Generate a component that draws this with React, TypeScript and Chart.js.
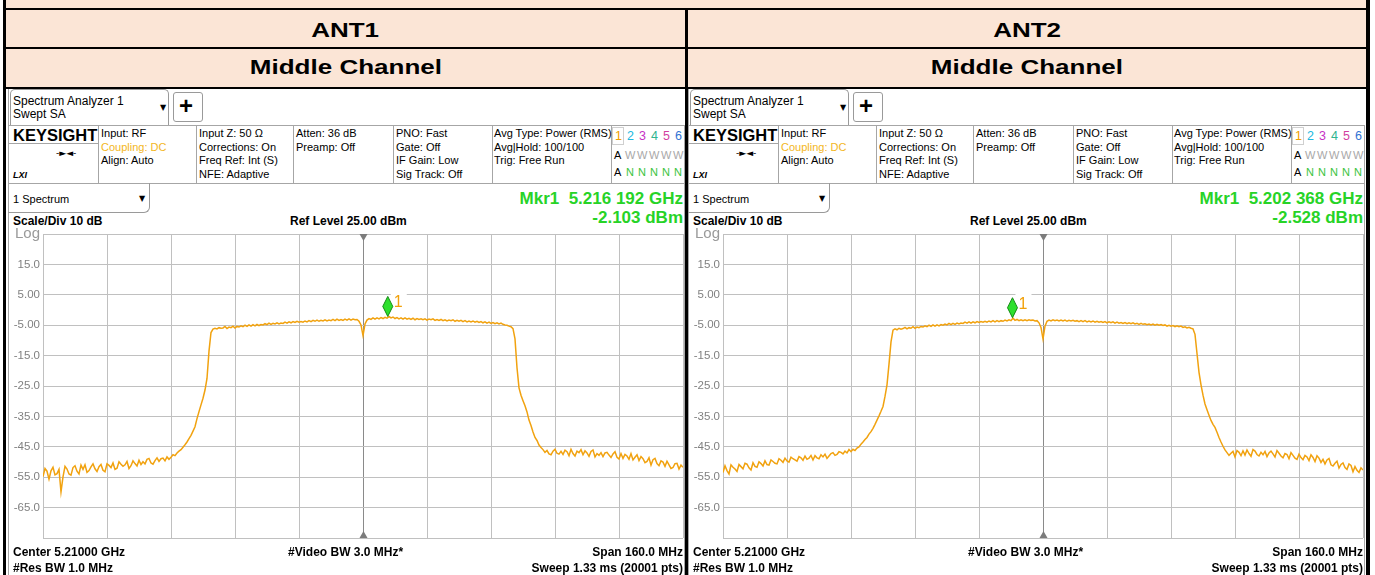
import React, { useEffect, useRef } from 'react';
import { Chart, registerables } from 'chart.js';

Chart.register(...registerables);

// ---------------- data ----------------
const FREQ_START_MHZ = -80; // offset from centre 5.21 GHz
const FREQ_STEP_MHZ = 0.5;
const X_MIN = -80;
const X_MAX = 80;
const X_STEP = 16;
const Y_MIN = -75;
const Y_MAX = 25;
const Y_STEP = 10;
const Y_TICK_VALUES = [25, 15, 5, -5, -15, -25, -35, -45, -55, -65, -75];
const Y_TICK_LABELS = ['Log', '15.0', '5.00', '-5.00', '-15.0', '-25.0', '-35.0', '-45.0', '-55.0', '-65.0', ''];

const ANT1_TRACE = [
  -54.8, -52.1, -53.0, -55.6, -52.9, -51.7, -54.2, -53.8, -52.4, -59.8,
  -54.9, -51.4, -52.3, -53.9, -54.3, -51.8, -51.2, -53.0, -53.9, -51.0,
  -52.4, -50.9, -53.4, -52.8, -51.6, -50.6, -52.2, -53.1, -51.5, -50.8,
  -52.7, -53.2, -50.6, -51.1, -51.8, -50.3, -52.4, -52.0, -49.9, -50.7,
  -51.4, -50.9, -49.8, -52.1, -51.2, -49.6, -50.5, -51.3, -49.4, -50.8,
  -49.9, -50.6, -49.1, -48.8, -50.3, -50.7, -49.5, -48.6, -49.8, -48.9,
  -48.7, -49.6, -48.3, -49.1, -48.4, -47.6, -47.9, -47.0, -46.4, -45.9,
  -45.1, -44.3, -43.4, -42.3, -41.2, -39.8, -38.4, -35.7, -33.4, -31.2,
  -29.0, -26.3, -22.5, -13.5, -7.4, -6.3, -6.0, -6.2, -5.8, -6.0,
  -5.9, -5.4, -6.1, -5.6, -5.8, -5.3, -5.9, -5.4, -5.6, -5.2,
  -5.5, -5.0, -5.4, -4.9, -5.3, -4.8, -5.2, -4.7, -5.1, -4.8,
  -4.9, -4.5, -4.8, -4.3, -4.7, -4.4, -4.6, -4.2, -4.6, -4.3,
  -4.4, -4.0, -4.3, -3.9, -4.2, -3.8, -4.1, -3.7, -4.0, -3.8,
  -4.0, -3.6, -3.9, -3.5, -3.8, -3.4, -3.7, -3.3, -3.7, -3.4,
  -3.6, -3.2, -3.6, -3.3, -3.5, -3.1, -3.5, -3.0, -3.4, -3.1,
  -3.4, -3.0, -3.3, -2.9, -3.3, -3.0, -3.2, -3.1, -3.7, -4.9,
  -8.4, -4.6, -3.3, -2.8, -3.1, -2.6, -3.0, -2.6, -2.9, -2.5,
  -2.8, -2.4, -2.7, -2.15, -2.6, -2.3, -2.8, -2.5, -2.9, -2.6,
  -3.0, -2.6, -3.0, -2.7, -3.1, -2.7, -3.2, -2.8, -3.1, -2.9,
  -3.2, -2.9, -3.3, -3.0, -3.2, -2.9, -3.4, -3.1, -3.4, -3.1,
  -3.5, -3.2, -3.6, -3.3, -3.5, -3.2, -3.7, -3.4, -3.7, -3.4,
  -3.8, -3.5, -3.9, -3.6, -3.9, -3.6, -4.0, -3.7, -4.1, -3.8,
  -4.2, -3.9, -4.3, -4.0, -4.4, -4.1, -4.5, -4.2, -4.6, -4.3,
  -4.7, -4.9, -5.0, -5.3, -5.5, -6.1, -9.5, -19.0, -25.6, -28.0,
  -29.8, -31.5, -33.5, -36.2, -38.0, -40.1, -41.9, -42.9, -44.4, -45.2,
  -45.9, -46.8, -46.2, -47.3, -47.6, -46.4, -45.8, -47.1, -47.4, -46.5,
  -47.5, -46.1, -46.6, -47.9, -45.8, -47.2, -48.0, -46.4, -46.9, -45.9,
  -47.6, -46.3, -47.0, -48.1, -46.5, -46.0, -48.3, -47.2, -47.8, -46.9,
  -48.2, -47.0, -46.8, -47.7, -48.5, -47.3, -46.6, -48.4, -49.0, -47.2,
  -48.8, -47.5, -48.0, -49.1, -47.2, -49.3, -48.4, -47.6, -49.5, -48.2,
  -48.9, -50.2, -49.8, -48.6, -51.0, -49.2, -48.8, -50.5, -51.2, -49.6,
  -50.0, -51.4, -49.7, -50.9, -52.1, -51.8, -50.5, -50.4, -52.3, -51.0,
  -51.7,
];

const ANT2_TRACE = [
  -53.4, -51.2, -52.8, -53.9, -50.9, -51.7, -52.3, -53.1, -50.8, -51.5,
  -52.2, -50.4, -50.7, -51.9, -52.6, -50.2, -51.4, -51.7, -49.9, -50.5,
  -51.3, -49.6, -50.8, -51.0, -49.3, -49.8, -50.4, -50.6, -48.9, -49.4,
  -50.1, -48.7, -49.6, -50.0, -48.4, -48.9, -49.3, -49.7, -48.2, -48.6,
  -49.4, -48.0, -49.1, -48.7, -47.8, -49.3, -47.9, -48.6, -48.9, -47.6,
  -48.3, -47.4, -48.8, -48.0, -47.2, -46.9, -47.8, -47.5, -46.6, -46.8,
  -47.3, -46.4, -47.0, -45.9, -46.6, -45.8, -46.2, -45.4, -45.0, -44.1,
  -43.4, -42.6, -41.9, -40.8, -40.0, -38.9, -37.6, -36.2, -34.8, -33.3,
  -31.7, -28.4, -24.6, -17.8, -10.5, -6.6, -6.2, -6.5, -6.0, -6.3,
  -6.1, -5.7, -6.2, -5.8, -6.0, -5.5, -6.0, -5.6, -5.8, -5.4,
  -5.6, -5.2, -5.5, -5.0, -5.4, -4.9, -5.3, -4.9, -5.2, -4.8,
  -5.0, -4.6, -4.9, -4.4, -4.8, -4.4, -4.7, -4.3, -4.6, -4.3,
  -4.4, -4.0, -4.3, -3.9, -4.3, -3.9, -4.2, -3.8, -4.1, -3.8,
  -4.0, -3.7, -4.0, -3.6, -3.9, -3.5, -3.9, -3.5, -3.8, -3.5,
  -3.7, -3.3, -3.6, -3.2, -3.5, -2.7, -3.4, -3.1, -3.5, -3.2,
  -3.5, -3.2, -3.5, -3.2, -3.4, -3.3, -3.6, -3.5, -4.2, -5.7,
  -9.5, -5.3, -3.7, -3.3, -3.6, -3.2, -3.5, -3.3, -3.6, -3.3,
  -3.6, -3.3, -3.7, -3.4, -3.6, -3.4, -3.7, -3.5, -3.8, -3.5,
  -3.8, -3.5, -3.9, -3.6, -3.9, -3.6, -4.0, -3.7, -4.0, -3.8,
  -4.1, -3.8, -4.2, -3.9, -4.2, -3.9, -4.3, -4.0, -4.3, -4.1,
  -4.4, -4.1, -4.5, -4.2, -4.5, -4.2, -4.6, -4.4, -4.7, -4.4,
  -4.7, -4.5, -4.8, -4.6, -4.9, -4.6, -5.0, -4.7, -5.0, -4.8,
  -5.1, -4.9, -5.3, -5.0, -5.3, -5.1, -5.5, -5.2, -5.5, -5.3,
  -5.7, -5.5, -5.9, -5.7, -6.0, -6.2, -8.0, -14.3, -20.5, -24.6,
  -28.0, -30.9, -32.8, -34.6, -36.3, -37.6, -38.6, -40.2, -41.9, -43.4,
  -44.8, -46.0, -46.9, -47.8, -47.1, -46.5, -48.3, -46.2, -46.8, -47.9,
  -46.3, -47.7, -46.0, -47.2, -48.1, -45.9, -46.4, -47.5, -48.0, -46.8,
  -47.6, -46.5, -48.2, -47.0, -46.4, -47.3, -48.3, -46.2, -47.1, -48.0,
  -48.6, -47.2, -47.5, -48.9, -46.9, -47.8, -48.7, -49.1, -47.4, -48.5,
  -49.2, -47.8, -48.3, -49.5, -47.6, -48.5, -49.8, -47.9, -48.7, -50.1,
  -49.1, -50.6, -49.3, -48.8, -50.9, -51.3, -50.4, -49.7, -52.0, -50.8,
  -50.3, -51.8, -52.4, -50.6, -51.1, -53.2, -51.5, -52.7, -53.4, -51.9,
  -52.6,
];

const ANT1_MARKER = { freq: 6.192, level: -2.103 };
const ANT2_MARKER = { freq: -7.632, level: -2.528 };

const COLUMN_TITLES = ['ANT1', 'ANT2'];
const ROW_TITLE = 'Middle Channel';
const MKR_FREQ_TEXT = ['Mkr1  5.216 192 GHz', 'Mkr1  5.202 368 GHz'];
const MKR_LEVEL_TEXT = ['-2.103 dBm', '-2.528 dBm'];

// ---------------- styling ----------------
const FONT = '"Liberation Sans", Arial, Helvetica, sans-serif';
const TRACE_COLOR = '#f1a20f';
const GREEN = '#27d327';
const GRID = '#c0c0c0';
const PANEL_LINE = '#a6a6a6';
const PEACH = '#fbe5d6';
const PANEL_OFFSETS = [0, 680];

type TxtProps = {
  x: number;
  y: number;
  s: number;
  text: string;
  bold?: boolean;
  italic?: boolean;
  color?: string;
  right?: boolean;
  family?: string;
};

function Txt({ x, y, s, text, bold, italic, color, right, family }: TxtProps) {
  const style: React.CSSProperties = {
    position: 'absolute',
    top: y - s / 2,
    fontSize: s,
    lineHeight: s + 'px',
    whiteSpace: 'pre',
    fontFamily: family || FONT,
    fontWeight: bold ? 700 : 400,
    fontStyle: italic ? 'italic' : 'normal',
    color: color || '#000',
  };
  if (right) style.right = 1375 - x;
  else style.left = x;
  return <div style={style}>{text}</div>;
}

function Rect(props: { l: number; t: number; w: number; h: number; style?: React.CSSProperties }) {
  const { l, t, w, h, style } = props;
  return <div style={{ position: 'absolute', left: l, top: t, width: w, height: h, boxSizing: 'border-box', ...style }} />;
}

function HLine({ x1, x2, y, c }: { x1: number; x2: number; y: number; c?: string }) {
  return <Rect l={x1} t={y} w={x2 - x1} h={1} style={{ background: c || PANEL_LINE }} />;
}
function VLine({ y1, y2, x, c }: { y1: number; y2: number; x: number; c?: string }) {
  return <Rect l={x} t={y1} w={1} h={y2 - y1} style={{ background: c || PANEL_LINE }} />;
}

type Marker = { freq: number; level: number };

function SpectrumChart({ left, trace, marker }: { left: number; trace: number[]; marker: Marker }) {
  const ref = useRef<HTMLCanvasElement>(null);
  useEffect(() => {
    const canvas = ref.current;
    if (!canvas) return;
    const points = trace.map((v, i) => ({ x: FREQ_START_MHZ + i * FREQ_STEP_MHZ, y: v }));
    const overlay = {
      id: 'saOverlay',
      afterDatasetsDraw(chart: any) {
        const { ctx, chartArea, scales } = chart;
        const x0 = Math.round(scales.x.getPixelForValue(0)) + 0.5;
        ctx.save();
        ctx.fillStyle = '#7c7c7c';
        ctx.beginPath();
        ctx.moveTo(x0 - 4, chartArea.top);
        ctx.lineTo(x0 + 4, chartArea.top);
        ctx.lineTo(x0, chartArea.top + 7);
        ctx.closePath();
        ctx.fill();
        ctx.beginPath();
        ctx.moveTo(x0 - 4, chartArea.bottom);
        ctx.lineTo(x0 + 4, chartArea.bottom);
        ctx.lineTo(x0, chartArea.bottom - 7);
        ctx.closePath();
        ctx.fill();

        const mx = scales.x.getPixelForValue(marker.freq);
        const my = scales.y.getPixelForValue(marker.level);
        ctx.fillStyle = '#ffffff';
        ctx.fillRect(mx + 3, my - 25, 16, 17);
        ctx.fillStyle = '#f2a10a';
        ctx.font = '16px ' + FONT;
        ctx.textBaseline = 'alphabetic';
        ctx.textAlign = 'left';
        ctx.fillText('1', mx + 6, my - 9);
        ctx.beginPath();
        ctx.moveTo(mx, my);
        ctx.lineTo(mx + 5, my - 10);
        ctx.lineTo(mx, my - 20);
        ctx.lineTo(mx - 5, my - 10);
        ctx.closePath();
        ctx.fillStyle = '#2ee02e';
        ctx.fill();
        ctx.strokeStyle = '#158a15';
        ctx.lineWidth = 1;
        ctx.stroke();
        ctx.restore();
      },
    };
    const chart = new Chart(canvas, {
      type: 'line',
      data: {
        datasets: [
          {
            data: points,
            borderColor: TRACE_COLOR,
            borderWidth: 1.5,
            pointRadius: 0,
            tension: 0,
            fill: false,
          },
        ],
      },
      options: {
        animation: false,
        responsive: false,
        events: [],
        layout: { padding: { top: 11, right: 3, bottom: 4, left: 0 } },
        plugins: { legend: { display: false }, tooltip: { enabled: false }, title: { display: false } },
        scales: {
          x: {
            type: 'linear',
            min: X_MIN,
            max: X_MAX,
            ticks: { stepSize: X_STEP, display: false },
            grid: {
              drawTicks: false,
              lineWidth: 1,
              color: (c: any) => (c.tick && c.tick.value === 0 ? '#8a8a8a' : GRID),
            },
            border: { display: false },
            afterFit: (s: any) => {
              s.height = 0;
            },
          },
          y: {
            type: 'linear',
            min: Y_MIN,
            max: Y_MAX,
            ticks: {
              stepSize: Y_STEP,
              padding: 3,
              callback: (v: any) => {
                const i = Y_TICK_VALUES.indexOf(Number(v));
                return i >= 0 ? Y_TICK_LABELS[i] : '';
              },
              font: (c: any) => ({ family: FONT, size: c.tick && c.tick.value === Y_MAX ? 15 : 11.5 }),
              color: (c: any) => (c.tick && c.tick.value === Y_MAX ? '#9a9a9a' : '#808080'),
            },
            grid: { drawTicks: false, lineWidth: 1, color: GRID },
            border: { display: false },
            afterFit: (s: any) => {
              s.width = 33;
            },
          },
        },
      } as any,
      plugins: [overlay],
    });
    return () => chart.destroy();
  }, [trace, marker]);
  return (
    <canvas
      ref={ref}
      width={676}
      height={326}
      style={{ position: 'absolute', left, top: 222, width: 676, height: 326 }}
    />
  );
}

function Panel({ idx }: { idx: number }) {
  const o = PANEL_OFFSETS[idx];
  const trace = idx === 0 ? ANT1_TRACE : ANT2_TRACE;
  const marker = idx === 0 ? ANT1_MARKER : ANT2_MARKER;
  const legendColors = ['#f0a000', '#22b8e0', '#c632c6', '#2fb58f', '#d23f9f', '#3373d3'];
  const legendX = [615, 627, 639, 651, 663, 675];
  return (
    <>
      {/* frame lines */}
      <VLine x={8 + o} y1={89} y2={575} />
      <VLine x={684 + o} y1={125} y2={575} />
      <Rect l={10 + o} t={89} w={159} h={37} style={{ border: '1px solid #9a9a9a', borderBottom: 'none', borderRadius: '5px 5px 0 0' }} />
      <Rect l={173 + o} t={92} w={30} h={30} style={{ border: '1px solid #9a9a9a', borderRadius: 3 }} />
      <HLine x1={8 + o} x2={685 + o} y={125} />
      <HLine x1={8 + o} x2={685 + o} y={183} />
      {[98, 196, 293, 393, 492, 611].map((x) => (
        <VLine key={x} x={x + o} y1={125} y2={183} />
      ))}
      <HLine x1={8 + o} x2={98 + o} y={143} />
      <Rect l={612 + o} t={127} w={12} h={18} style={{ border: '1px solid #cfcfcf' }} />
      <Rect l={8 + o} t={183} w={142} h={30} style={{ borderRight: '1px solid #9a9a9a', borderBottom: '1px solid #9a9a9a', borderBottomRightRadius: 6 }} />

      {/* top bar */}
      <Txt x={13 + o} y={100.5} s={12} text="Spectrum Analyzer 1" />
      <Txt x={13 + o} y={114} s={12} text="Swept SA" />
      <Txt x={160 + o} y={108} s={8} text="▼" family='"DejaVu Sans", sans-serif' />
      <Txt x={179 + o} y={106} s={24} bold text="+" />

      {/* info row */}
      <Txt x={13 + o} y={135.5} s={16.5} bold text="KEYSIGHT" />
      <Txt x={56 + o} y={153} s={9} text="-►◄-" family='"DejaVu Sans", sans-serif' />
      <Txt x={13 + o} y={175} s={9} bold italic text="LXI" />
      <Txt x={101 + o} y={133} s={11} text="Input: RF" />
      <Txt x={101 + o} y={147} s={11} text="Coupling: DC" color="#f3b623" />
      <Txt x={101 + o} y={160} s={11} text="Align: Auto" />
      <Txt x={199 + o} y={133} s={11} text="Input Z: 50 Ω" />
      <Txt x={199 + o} y={147} s={11} text="Corrections: On" />
      <Txt x={199 + o} y={160} s={11} text="Freq Ref: Int (S)" />
      <Txt x={199 + o} y={174} s={11} text="NFE: Adaptive" />
      <Txt x={296 + o} y={133} s={11} text="Atten: 36 dB" />
      <Txt x={296 + o} y={147} s={11} text="Preamp: Off" />
      <Txt x={396 + o} y={133} s={11} text="PNO: Fast" />
      <Txt x={396 + o} y={147} s={11} text="Gate: Off" />
      <Txt x={396 + o} y={160} s={11} text="IF Gain: Low" />
      <Txt x={396 + o} y={174} s={11} text="Sig Track: Off" />
      <Txt x={494 + o} y={133} s={11} text="Avg Type: Power (RMS)" />
      <Txt x={494 + o} y={147} s={11} text="Avg|Hold: 100/100" />
      <Txt x={494 + o} y={160} s={11} text="Trig: Free Run" />
      {legendX.map((x, i) => (
        <Txt key={'d' + i} x={x + o} y={136} s={12.5} text={String(i + 1)} color={legendColors[i]} />
      ))}
      <Txt x={614 + o} y={155} s={11} text="A" />
      {[625, 637, 649, 661, 673].map((x) => (
        <Txt key={'w' + x} x={x + o} y={155} s={11} text="W" color="#a8a8a8" />
      ))}
      <Txt x={614 + o} y={172} s={11} text="A" />
      {[626, 638, 650, 662, 674].map((x) => (
        <Txt key={'n' + x} x={x + o} y={172} s={11} text="N" color="#3cc43c" />
      ))}

      {/* trace header */}
      <Txt x={13 + o} y={199} s={11} text="1 Spectrum" />
      <Txt x={139 + o} y={199} s={8} text="▼" family='"DejaVu Sans", sans-serif' />
      <Txt x={683 + o} y={198} s={17} bold right text={MKR_FREQ_TEXT[idx]} color={GREEN} />
      <Txt x={683 + o} y={217} s={17} bold right text={MKR_LEVEL_TEXT[idx]} color={GREEN} />
      <Txt x={13 + o} y={221} s={12} bold text="Scale/Div 10 dB" />
      <Txt x={290 + o} y={221} s={12} bold text="Ref Level 25.00 dBm" />

      <SpectrumChart left={10 + o} trace={trace} marker={marker} />

      {/* footer */}
      <Txt x={13 + o} y={552} s={12} bold text="Center 5.21000 GHz" />
      <Txt x={288 + o} y={552} s={12} bold text="#Video BW 3.0 MHz*" />
      <Txt x={683 + o} y={552} s={12} bold right text="Span 160.0 MHz" />
      <Txt x={13 + o} y={568} s={12} bold text="#Res BW 1.0 MHz" />
      <Txt x={683 + o} y={568} s={12} bold right text="Sweep 1.33 ms (20001 pts)" />
    </>
  );
}

function HeaderCell({ left, width, y, text }: { left: number; width: number; y: number; text: string }) {
  return (
    <div
      style={{
        position: 'absolute',
        left,
        width,
        top: y - 10,
        height: 20,
        lineHeight: '20px',
        fontSize: 20,
        fontWeight: 700,
        fontFamily: FONT,
        textAlign: 'center',
        whiteSpace: 'pre',
      }}
    >
      <span style={{ display: 'inline-block', transform: 'scaleX(1.3)', transformOrigin: 'center' }}>{text}</span>
    </div>
  );
}

export default function App() {
  return (
    <div
      style={{
        position: 'absolute',
        left: 0,
        top: 0,
        width: 1375,
        height: 575,
        overflow: 'hidden',
        background: '#ffffff',
        fontFamily: FONT,
      }}
    >
      {/* table header background */}
      <Rect l={4} t={0} w={1365} h={88} style={{ background: PEACH }} />
      <Rect l={3} t={8} w={1367} h={2} style={{ background: '#000' }} />
      <Rect l={3} t={47} w={1367} h={2} style={{ background: '#000' }} />
      <Rect l={3} t={87} w={1367} h={2} style={{ background: '#000' }} />
      <Rect l={3} t={0} w={3} h={575} style={{ background: '#000' }} />
      <Rect l={685} t={8} w={3} h={567} style={{ background: '#000' }} />
      <Rect l={1366} t={0} w={4} h={575} style={{ background: '#000' }} />

      <HeaderCell left={6} width={679} y={30} text={COLUMN_TITLES[0]} />
      <HeaderCell left={688} width={678} y={30} text={COLUMN_TITLES[1]} />
      <HeaderCell left={6} width={679} y={67} text={ROW_TITLE} />
      <HeaderCell left={688} width={678} y={67} text={ROW_TITLE} />

      <Panel idx={0} />
      <Panel idx={1} />
    </div>
  );
}
